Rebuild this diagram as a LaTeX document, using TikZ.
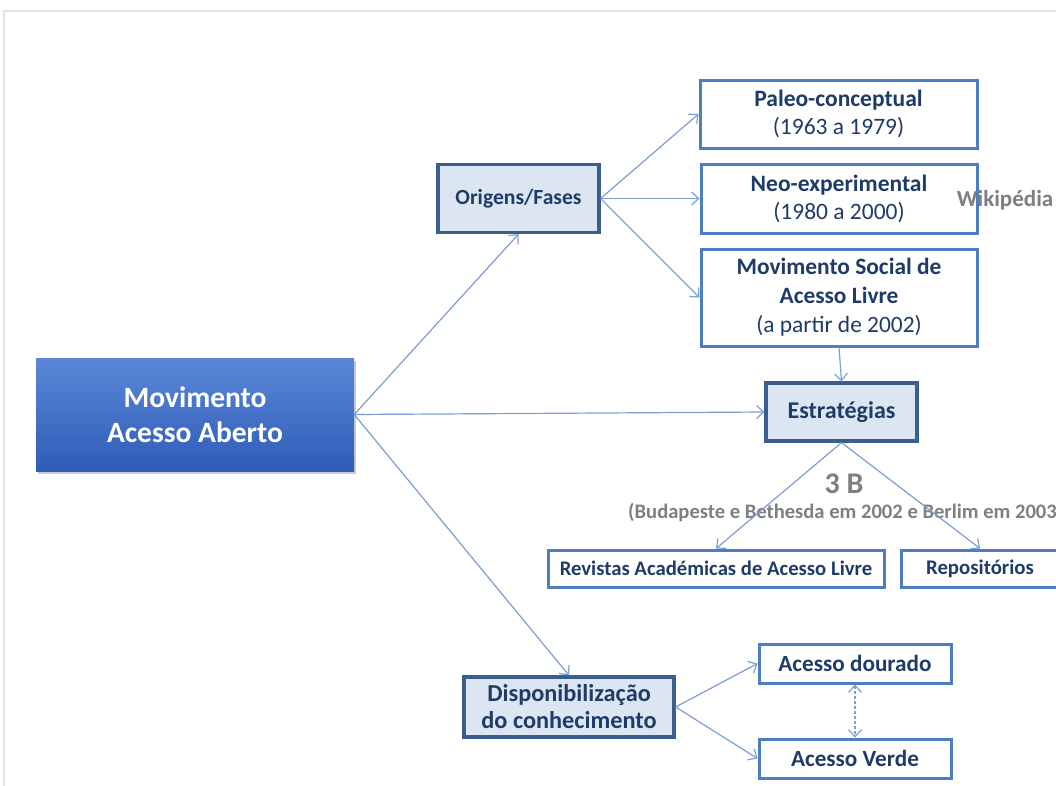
\documentclass[tikz,border=0pt]{standalone}
\usepackage{fontspec}
\setmainfont{Carlito}
\usetikzlibrary{arrows.meta,shadows}
\definecolor{txt}{HTML}{1F3B68}
\definecolor{wbord}{HTML}{4F7EC0}
\definecolor{dbord}{HTML}{3A5F8E}
\definecolor{lfill}{HTML}{DCE5F2}
\definecolor{arr}{HTML}{7C9FD3}
\definecolor{gtxt}{HTML}{7F7F7F}
\definecolor{frame}{HTML}{DDE3EF}
\definecolor{maintop}{HTML}{5B87D7}
\definecolor{mainbot}{HTML}{2F5DB7}
\tikzset{
  base/.style={align=center, inner sep=0pt, text=txt, font=\fontsize{23.5}{28}\selectfont},
  wbox/.style={base, draw=wbord, line width=3pt, fill=white},
  lbox/.style={base, draw=dbord, line width=3.2pt, fill=lfill},
  mainbox/.style={align=center, inner sep=0pt, text=white,
    font=\fontsize{29.5}{35}\selectfont\bfseries,
    top color=maintop, bottom color=mainbot,
    drop shadow={shadow xshift=2pt, shadow yshift=-3pt, opacity=0.4}},
  conn/.style={draw=arr, line width=1.2pt, -{Straight Barb[length=7pt,width=13pt,line width=1.2pt]}},
  gray/.style={text=gtxt, inner sep=0pt, font=\fontsize{23}{26}\selectfont\bfseries}
}
\begin{document}
\begin{tikzpicture}[x=1pt,y=-1pt]
\useasboundingbox (0,0) rectangle (1056,785);
\clip (0,0) rectangle (1056,785);
\fill[white] (0,0) rectangle (1056,785);
\draw[frame, line width=1.2pt] (1060,11) -- (4,11) -- (4,790);

\node[mainbox, minimum width=318pt, minimum height=113pt] (main) at (195,414.5) {Movimento\\Acesso Aberto};

\node[lbox, minimum width=161pt, minimum height=68pt, font=\fontsize{21.6}{26}\selectfont] (orig) at (518.5,198.5) {\bfseries Origens/Fases};
\node[wbox, minimum width=277pt, minimum height=68pt] (paleo) at (838.5,114) {\bfseries Paleo-conceptual\\(1963 a 1979)};
\node[wbox, minimum width=276pt, minimum height=69pt] (neo) at (839,198.5) {\bfseries Neo-experimental\\(1980 a 2000)};
\node[wbox, minimum width=276pt, minimum height=97pt, font=\fontsize{23.4}{29}\selectfont] (movsoc) at (839,297.5) {\bfseries Movimento Social de\\\bfseries Acesso Livre\\(a partir de 2002)};
\node[gray] (wiki) at (1005,200) {Wikipédia};

\node[lbox, minimum width=151pt, minimum height=58pt, font=\fontsize{24}{28}\selectfont] (estr) at (841.5,412) {\bfseries Estratégias};
\node[gray, font=\fontsize{30}{32}\selectfont\bfseries] (tresb) at (844,484) {3 B};
\node[gray, font=\fontsize{20.6}{22}\selectfont\bfseries, anchor=west] (bud) at (628,512) {(Budapeste e Bethesda em 2002 e Berlim em 2003)};

\node[wbox, minimum width=336pt, minimum height=37pt, font=\fontsize{20.7}{24}\selectfont] (rev) at (716,568.5) {\bfseries Revistas Académicas de Acesso Livre};
\node[wbox, minimum width=158pt, minimum height=37pt, font=\fontsize{20.8}{24}\selectfont] (repo) at (980,568.5) {\bfseries Repositórios};

\node[lbox, minimum width=210pt, minimum height=60pt, font=\fontsize{24.3}{27}\selectfont] (disp) at (569,707) {\bfseries Disponibilização\\\bfseries do conhecimento};
\node[wbox, minimum width=192pt, minimum height=39pt, font=\fontsize{23.2}{26}\selectfont] (dour) at (855,663.5) {\bfseries Acesso dourado};
\node[wbox, minimum width=192pt, minimum height=39pt, font=\fontsize{23.2}{26}\selectfont] (verde) at (855,758.5) {\bfseries Acesso Verde};

\draw[conn] (main.east) -- (orig.south);
\draw[conn] (main.east) -- (estr.west);
\draw[conn] (main.east) -- (disp.north);
\draw[conn] (orig.east) -- (paleo.west);
\draw[conn] (orig.east) -- (neo.west);
\draw[conn] (orig.east) -- (movsoc.west);
\draw[conn] (movsoc.south) -- (estr.north);
\draw[conn] (estr.south) -- (rev.north);
\draw[conn] (estr.south) -- (repo.north);
\draw[conn] (disp.east) -- (dour.west);
\draw[conn] (disp.east) -- (verde.west);
\draw[draw=arr, line width=1.2pt, dash pattern=on 3pt off 2pt, {Straight Barb[length=7pt,width=13pt,line width=1.2pt]}-{Straight Barb[length=7pt,width=13pt,line width=1.2pt]}] (dour.south) -- (verde.north);
\end{tikzpicture}
\end{document}
